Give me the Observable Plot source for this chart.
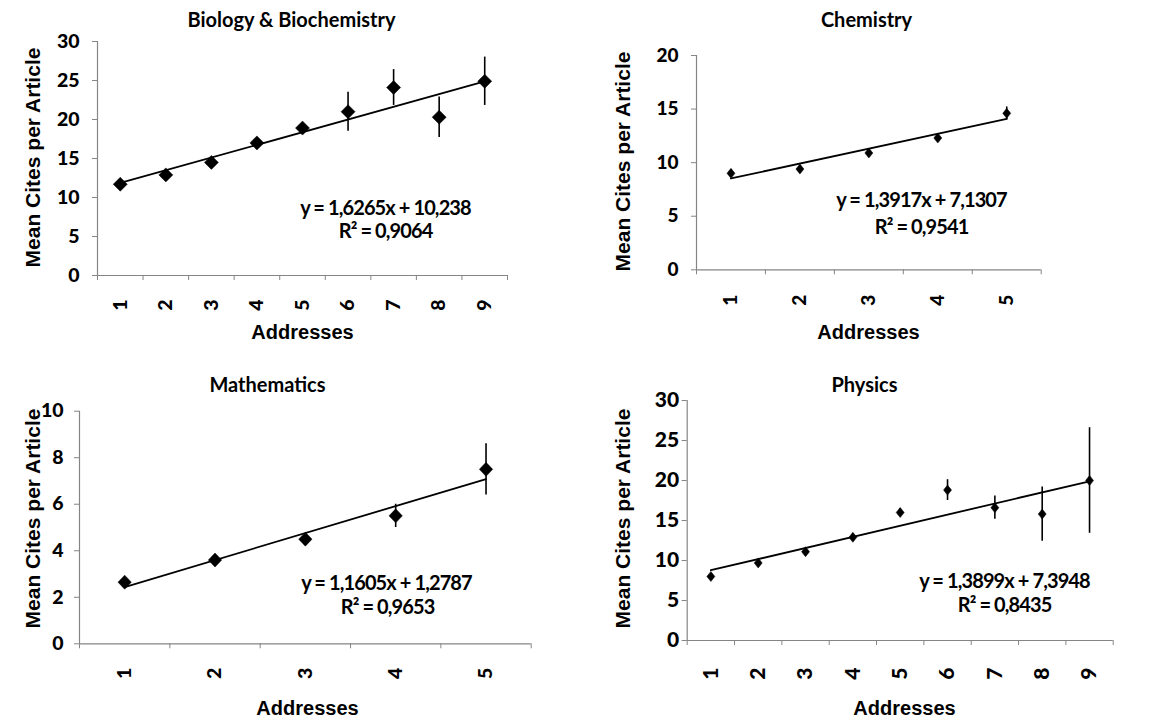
<!DOCTYPE html>
<html><head><meta charset="utf-8">
<script src="https://cdn.jsdelivr.net/npm/d3@7"></script>
<script src="https://cdn.jsdelivr.net/npm/@observablehq/plot@0.6"></script>
<style>
body{margin:0;background:#fff;}
#wrap{position:relative;width:1166px;height:720px;overflow:hidden;background:#fff;}
.panel{position:absolute;}
.panel svg{overflow:visible;}
</style></head><body><div id="wrap"></div>
<script>
// ---------- data ----------
const bioAddresses = [1, 2, 3, 4, 5, 6, 7, 8, 9];
const bioMean      = [11.7, 12.9, 14.5, 17.0, 18.9, 21.0, 24.1, 20.3, 24.9];
const bioErr       = [0.4, 0.4, 0.5, 0.5, 0.6, 2.5, 2.3, 2.6, 3.1];
const bioFit       = [1.6265, 10.238];
const bioEqText    = ["y = 1,6265x + 10,238", "R² = 0,9064"];

const chemAddresses = [1, 2, 3, 4, 5];
const chemMean      = [9.0, 9.4, 10.9, 12.3, 14.6];
const chemErr       = [0.3, 0.3, 0.3, 0.3, 0.6];
const chemFit       = [1.3917, 7.1307];
const chemEqText    = ["y = 1,3917x + 7,1307", "R² = 0,9541"];

const mathAddresses = [1, 2, 3, 4, 5];
const mathMean      = [2.65, 3.6, 4.5, 5.5, 7.5];
const mathErr       = [0.15, 0.15, 0.2, 0.5, 1.1];
const mathFit       = [1.1605, 1.2787];
const mathEqText    = ["y = 1,1605x + 1,2787", "R² = 0,9653"];

const physAddresses = [1, 2, 3, 4, 5, 6, 7, 8, 9];
const physMean      = [8.0, 9.7, 11.1, 12.9, 16.0, 18.8, 16.6, 15.8, 20.0];
const physErr       = [0.3, 0.3, 0.4, 0.4, 0.5, 1.3, 1.45, 3.4, 6.6];
const physFit       = [1.3899, 7.3948];
const physEqText    = ["y = 1,3899x + 7,3948", "R² = 0,8435"];

const yTitle = "Mean Cites per Article";
const xTitle = "Addresses";

// ---------- layout / style ----------
const panels = [
  {title: "Biology & Biochemistry", xs: bioAddresses, ys: bioMean, es: bioErr, fit: bioFit, eq: bioEqText,
   yTicks: [0,5,10,15,20,25,30], left: 0, top: 0, w: 583, h: 360, frame: [97, 507, 41, 275],
   r: 7, aspect: 1, tickFont: 19.5, yPad: 13, xPad: 24,
   titleXY: [291, 20], ylabXY: [33, 157], xlabXY: [302, 332], eqXY: [385, 208], r2XY: [385, 231]},
  {title: "Chemistry", xs: chemAddresses, ys: chemMean, es: chemErr, fit: chemFit, eq: chemEqText,
   yTicks: [0,5,10,15,20], left: 583, top: 0, w: 583, h: 360, frame: [696, 1040.7, 55, 269.3],
   r: 5, aspect: 1.25, tickFont: 19, yPad: 13, xPad: 25,
   titleXY: [866, 20], ylabXY: [623, 161], xlabXY: [868, 332], eqXY: [921, 200], r2XY: [921, 227]},
  {title: "Mathematics", xs: mathAddresses, ys: mathMean, es: mathErr, fit: mathFit, eq: mathEqText,
   yTicks: [0,2,4,6,8,10], left: 0, top: 360, w: 583, h: 360, frame: [79, 530.7, 410.7, 643.3],
   r: 7, aspect: 1.05, tickFont: 19.5, yPad: 11, xPad: 24,
   titleXY: [267, 385], ylabXY: [33, 518], xlabXY: [307, 708], eqXY: [386, 583], r2XY: [387, 607]},
  {title: "Physics", xs: physAddresses, ys: physMean, es: physErr, fit: physFit, eq: physEqText,
   yTicks: [0,5,10,15,20,25,30], left: 583, top: 360, w: 583, h: 360, frame: [686.7, 1112.7, 400, 640],
   r: 5, aspect: 1.25, tickFont: 21, yPad: 3, xPad: 27,
   titleXY: [864, 385], ylabXY: [623, 518], xlabXY: [904, 708], eqXY: [1004, 581], r2XY: [1004, 605]}
];

const diamond = (aspect) => ({
  draw(ctx, size) {
    const r = Math.sqrt(size / Math.PI), w = r / aspect;
    ctx.moveTo(0, -r); ctx.lineTo(w, 0); ctx.lineTo(0, r); ctx.lineTo(-w, 0); ctx.closePath();
  }
});

const AXIS = "#858585";
const TICKFONT = "Lato";
const wrap = document.getElementById("wrap");

for (const p of panels) {
  const [fx0, fx1, fy0, fy1] = p.frame;
  const ml = fx0 - p.left, mr = p.left + p.w - fx1, mt = fy0 - p.top, mb = p.top + p.h - fy1;
  const at = ([ax, ay]) => ({frameAnchor: "top-left", dx: ax - fx0, dy: ay - fy0, textAnchor: "middle", lineAnchor: "middle"});
  const n = p.xs.length;
  const pts = p.xs.map((x, i) => ({x, y: p.ys[i], e: p.es[i]}));
  const bounds = d3.range(n + 1).map(i => i + 0.5);
  const trend = [p.xs[0], p.xs[n - 1]].map(x => ({x, y: p.fit[0] * x + p.fit[1]}));
  const lab = {fill: "#000", fontWeight: "bold"};

  const svg = Plot.plot({
    width: p.w, height: p.h,
    marginLeft: ml, marginRight: mr, marginTop: mt, marginBottom: mb,
    style: {background: "transparent", color: "#000", overflow: "visible"},
    x: {type: "linear", domain: [0.5, n + 0.5], label: null},
    y: {type: "linear", domain: [0, p.yTicks[p.yTicks.length - 1]], label: null},
    marks: [
      Plot.ruleY([0], {stroke: AXIS, strokeWidth: 1.2}),
      Plot.ruleX([0.5], {stroke: AXIS, strokeWidth: 1.2}),
      Plot.axisY(p.yTicks, {tickSize: 5, tickFormat: () => "", stroke: AXIS, label: null}),
      Plot.axisY(p.yTicks, {tickSize: 0, tickPadding: 5 + p.yPad, label: null, fontSize: p.tickFont,
        fontFamily: TICKFONT, ...lab}),
      Plot.axisX(bounds, {tickSize: 5, tickFormat: () => "", stroke: AXIS, label: null}),
      Plot.axisX(p.xs, {tickSize: 0, tickPadding: p.xPad, tickRotate: -90, label: null, fontSize: p.tickFont,
        fontFamily: TICKFONT, ...lab}),
      Plot.line(trend, {x: "x", y: "y", stroke: "#000", strokeWidth: 1.8}),
      Plot.ruleX(pts, {x: "x", y1: d => d.y - d.e, y2: d => d.y + d.e, stroke: "#000", strokeWidth: 1.6}),
      Plot.dot(pts, {x: "x", y: "y", r: p.r, symbol: diamond(p.aspect), fill: "#000", stroke: "#000", strokeWidth: 0.5}),
      Plot.text([p.title], {text: d => d, ...at(p.titleXY), fontFamily: "Lato", fontSize: 20, ...lab}),
      Plot.text([yTitle], {text: d => d, ...at(p.ylabXY), rotate: -90, fontFamily: "Liberation Sans", fontSize: 21, ...lab}),
      Plot.text([xTitle], {text: d => d, ...at(p.xlabXY), fontFamily: "Liberation Sans", fontSize: 20, ...lab}),
      Plot.text([p.eq[0]], {text: d => d, ...at(p.eqXY), fontFamily: "Lato", fontSize: 20, ...lab}),
      Plot.text([p.eq[1]], {text: d => d, ...at(p.r2XY), fontFamily: "Lato", fontSize: 20, ...lab})
    ]
  });
  d3.select(svg).selectAll("text").filter(function () {
    return p.eq.includes(this.textContent);
  }).style("letter-spacing", "-0.9px");
  d3.select(svg).selectAll("text").filter(function () {
    return p.xs.map(String).includes(this.textContent) || p.yTicks.map(String).includes(this.textContent);
  }).style("font-weight", "900");
  const div = document.createElement("div");
  div.className = "panel";
  div.style.left = p.left + "px";
  div.style.top = p.top + "px";
  div.appendChild(svg);
  wrap.appendChild(div);
}
</script></body></html>
